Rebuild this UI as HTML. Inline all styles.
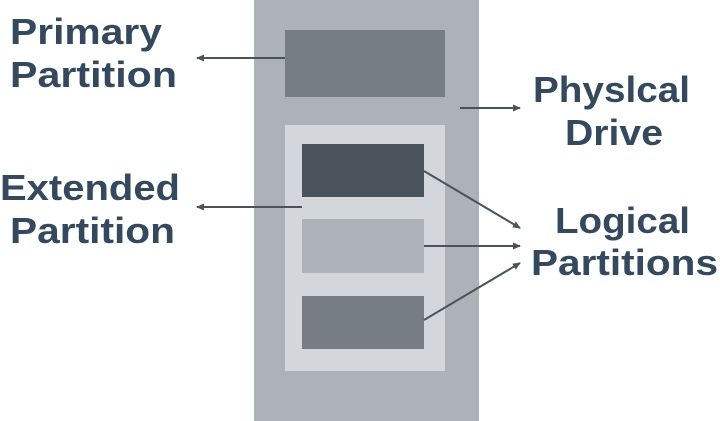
<!DOCTYPE html>
<html><head><meta charset="utf-8"><style>
html,body{margin:0;padding:0;background:#fff;width:720px;height:421px;overflow:hidden}
svg{display:block}
text{font-family:"Liberation Sans",sans-serif;font-weight:bold;font-size:36px;fill:#34495e}
</style></head><body>
<svg width="720" height="421" viewBox="0 0 720 421">
<defs><marker id="a" markerWidth="8" markerHeight="8" refX="7" refY="4" orient="auto" markerUnits="userSpaceOnUse"><path d="M0,0.5 L8,4 L0,7.5 Z" fill="#4a535c"/></marker></defs>
<rect x="254" y="0" width="225" height="421" fill="#adb2b9"/>
<rect x="285" y="30" width="160" height="67" fill="#777d85"/>
<rect x="285" y="125" width="160" height="246" fill="#d3d7dc"/>
<rect x="302" y="144" width="122" height="53" fill="#4a535c"/>
<rect x="302" y="219" width="122" height="54" fill="#adb2b9"/>
<rect x="302" y="296" width="122" height="53" fill="#777d85"/>
<g stroke="#4a535c" stroke-width="2" fill="none" marker-end="url(#a)">
<line x1="285" y1="58" x2="197" y2="58"/>
<line x1="302" y1="207" x2="197" y2="207"/>
<line x1="460" y1="108" x2="520" y2="108"/>
<line x1="424" y1="171" x2="520" y2="228"/>
<line x1="424" y1="246" x2="520" y2="246"/>
<line x1="424" y1="320" x2="520" y2="263"/>
</g>
<text x="10" y="44" textLength="152" lengthAdjust="spacingAndGlyphs">Primary</text>
<text x="10" y="87" textLength="167" lengthAdjust="spacingAndGlyphs">Partition</text>
<text x="0" y="200" textLength="180" lengthAdjust="spacingAndGlyphs">Extended</text>
<text x="10" y="243" textLength="165" lengthAdjust="spacingAndGlyphs">Partition</text>
<text x="533" y="102" textLength="157" lengthAdjust="spacingAndGlyphs">Physlcal</text>
<text x="565" y="145" textLength="98" lengthAdjust="spacingAndGlyphs">Drive</text>
<text x="555" y="233" textLength="135" lengthAdjust="spacingAndGlyphs">Logical</text>
<text x="531" y="275" textLength="187" lengthAdjust="spacingAndGlyphs">Partitions</text>
</svg>
</body></html>
